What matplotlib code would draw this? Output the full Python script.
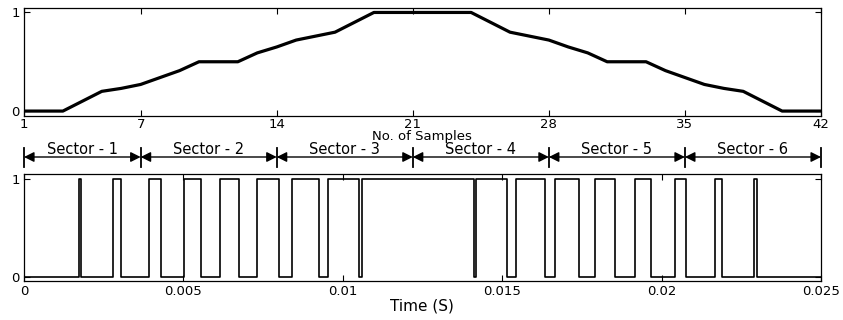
import numpy as np
import matplotlib
matplotlib.use('Agg')
import matplotlib.pyplot as plt
import matplotlib.transforms as mtransforms

plt.rcParams['font.family'] = 'DejaVu Sans'

# modulating reference, one value per sample
samples = list(range(1, 43))
ref = [0, 0, 0, 0.1, 0.2, 0.23, 0.27, 0.34, 0.41, 0.5, 0.5, 0.5, 0.59, 0.65,
       0.72, 0.76, 0.8, 0.9, 1, 1, 1, 1, 1, 1, 0.9, 0.8, 0.76, 0.72, 0.65,
       0.59, 0.5, 0.5, 0.5, 0.41, 0.34, 0.27, 0.23, 0.2, 0.1, 0, 0, 0]
sample_ticks = [1, 7, 14, 21, 28, 35, 42]

# switching instants of the gate pulse (s)
t_on = [0.00173, 0.00279, 0.00392, 0.00502, 0.00615, 0.00730, 0.00840,
        0.00953, 0.01060, 0.01418, 0.01544, 0.01667, 0.01792, 0.01915,
        0.02041, 0.02166, 0.02289]
t_off = [0.00179, 0.00305, 0.00429, 0.00555, 0.00675, 0.00800, 0.00926,
         0.01052, 0.01410, 0.01515, 0.01633, 0.01740, 0.01853, 0.01967,
         0.02076, 0.02189, 0.02298]
t_end = 0.025
time_ticks = [0, 0.005, 0.01, 0.015, 0.02, 0.025]
time_ticklabels = ['0', '0.005', '0.01', '0.015', '0.02', '0.025']

sectors = ['Sector - 1', 'Sector - 2', 'Sector - 3',
           'Sector - 4', 'Sector - 5', 'Sector - 6']
sector_edges = [1, 7, 14, 21, 28, 35, 42]

# build the square wave
t = [0.0]
g = [0]
for a, b in zip(t_on, t_off):
    t += [a, a, b, b]
    g += [0, 1, 1, 0]
t.append(t_end)
g.append(0)

fig = plt.figure(figsize=(8.43, 3.2), dpi=100)
ax1 = fig.add_axes([0.0285, 0.6375, 0.9454, 0.339])
ax2 = fig.add_axes([0.0285, 0.1228, 0.9454, 0.3334])

ax1.plot(samples, ref, color='black', lw=2.3)
ax1.set_xlim(1, 42)
ax1.set_ylim(-0.05, 1.05)
ax1.set_xticks(sample_ticks)
ax1.set_yticks([0, 1])

ax2.plot(t, g, color='black', lw=1.2)
ax2.set_xlim(0, t_end)
ax2.set_ylim(-0.042, 1.05)
ax2.set_xticks(time_ticks)
ax2.set_xticklabels(time_ticklabels)
ax2.set_yticks([0, 1])

for ax in (ax1, ax2):
    ax.tick_params(direction='in', top=True, right=True, length=4,
                   width=0.8, labelsize=9.5, pad=3)
    for s in ax.spines.values():
        s.set_linewidth(0.9)
ax1.tick_params(axis='x', pad=1.5)

fig.text(0.5, 1 - 136.5 / 320, 'No. of Samples', ha='center', va='center',
         fontsize=9.5)
fig.text(0.5, 1 - 306 / 320, 'Time (S)', ha='center', va='center',
         fontsize=11)

# sector markers under the top axes
tr = mtransforms.blended_transform_factory(ax1.transData, fig.transFigure)
y_arrow = 1 - 157 / 320
y_lo = 1 - 167 / 320
y_hi = 1 - 148 / 320
for x in sector_edges:
    ax1.plot([x, x], [y_lo, y_hi], color='black', lw=1.3,
             transform=tr, clip_on=False)
for i, name in enumerate(sectors):
    x0, x1 = sector_edges[i], sector_edges[i + 1]
    ax1.annotate('', xy=(x1, y_arrow), xytext=(x0, y_arrow),
                 xycoords=tr, textcoords=tr,
                 arrowprops=dict(arrowstyle='<|-|>', color='black', lw=1.0,
                                 mutation_scale=15, shrinkA=0, shrinkB=0))
    ax1.text((x0 + x1) / 2, 1 - 156.5 / 320, name, transform=tr,
             ha='center', va='bottom', fontsize=10.5)

fig.savefig('out.png', dpi=100)
